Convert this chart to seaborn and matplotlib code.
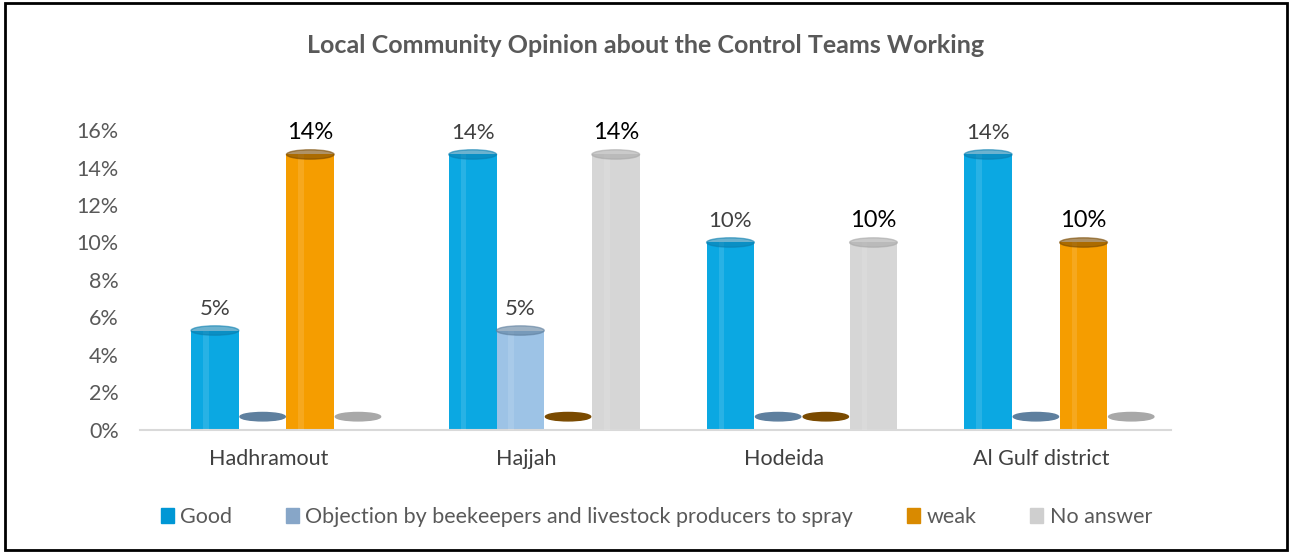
import matplotlib
matplotlib.use("Agg")
import matplotlib.pyplot as plt
import seaborn as sns
import pandas as pd
import numpy as np
from matplotlib.patches import Ellipse, Rectangle

# Data (bar heights in %, plus the printed labels)
regions = ["Hadhramout", "Hajjah", "Hodeida", "Al Gulf district"]
answers = ["Good", "Objection by beekeepers and livestock producers to spray", "weak", "No answer"]
good = [5.3, 14.7, 10.0, 14.7]
objection = [0, 5.3, 0, 0]
weak = [14.7, 0, 0, 10.0]
no_answer = [0, 14.7, 10.0, 0]
good_labels = ["5%", "14%", "10%", "14%"]
objection_labels = ["", "5%", "", ""]
weak_labels = ["14%", "", "", "10%"]
no_answer_labels = ["", "14%", "10%", ""]

bar_colors = ["#0BA8E2", "#9DC3E6", "#F59D00", "#D6D6D6"]
legend_colors = ["#0097D5", "#87A6C8", "#D98A00", "#CFCFCF"]
disc_colors = ["#0A7FB0", "#5E7F9E", "#7A4A00", "#A8A8A8"]
label_colors = ["#404040", "#404040", "#000000", "#000000"]
label_sizes = [16, 16, 17, 17]

rows = []
for ans, vals in zip(answers, [good, objection, weak, no_answer]):
    for reg, v in zip(regions, vals):
        rows.append({"region": reg, "answer": ans, "value": v})
df = pd.DataFrame(rows)
all_labels = [good_labels, objection_labels, weak_labels, no_answer_labels]

sns.set_style("white")
plt.rcParams["font.family"] = ["Lato", "DejaVu Sans"]

fig = plt.figure(figsize=(12.92, 5.56), dpi=100)
ax = fig.add_axes([0.108, 0.227, 0.798, 0.539])

sns.barplot(data=df, x="region", y="value", hue="answer", order=regions,
            hue_order=answers, palette=bar_colors, width=0.74, ax=ax,
            legend=False, saturation=1, errorbar=None)

shift = 0.07
for i, cont in enumerate(ax.containers):
    for j, patch in enumerate(cont.patches):
        patch.set_x(patch.get_x() + shift)
        patch.set_linewidth(0)
        cx = patch.get_x() + patch.get_width() / 2
        w = patch.get_width()
        h = patch.get_height()
        if h == 0:
            ax.add_patch(Ellipse((cx, 0.7), w * 0.95, 0.45, color=disc_colors[i], zorder=3))
        else:
            # light highlight stripe and top cap for a cylinder look
            ax.add_patch(Rectangle((patch.get_x() + w * 0.25, 0), w * 0.12, h,
                                   color="white", alpha=0.12, lw=0, zorder=3))
            ax.add_patch(Ellipse((cx, h), w, 0.5, color=disc_colors[i], alpha=0.6, zorder=3))
        lab = all_labels[i][j]
        if lab:
            ax.text(cx, h + 0.6, lab, ha="center", va="bottom",
                    fontsize=label_sizes[i], color=label_colors[i])

ax.set_ylim(0, 16)
ax.set_xlim(-0.5, 3.5)
ax.set_yticks(np.arange(0, 17, 2))
ax.set_yticklabels([f"{t}%" for t in range(0, 17, 2)])
ax.tick_params(axis="y", length=0, pad=15, labelsize=15.5, labelcolor="#595959")
ax.tick_params(axis="x", length=0, pad=14, labelsize=15.5, labelcolor="#404040")
ax.set_xticks(np.arange(-0.5, 4, 1), minor=True)
ax.tick_params(axis="x", which="minor", length=8, width=1.5, color="#D9D9D9")
ax.set_xlabel("")
ax.set_ylabel("")
for s in ["top", "right", "left"]:
    ax.spines[s].set_visible(False)
ax.spines["bottom"].set_color("#D9D9D9")
ax.spines["bottom"].set_linewidth(1.5)

fig.text(0.5, 0.919, "Local Community Opinion about the Control Teams Working",
         ha="center", va="center", fontsize=18, fontweight="bold", color="#595959")

handles = [Rectangle((0, 0), 1, 1, color=c) for c in legend_colors]
fig.legend(handles, answers, loc="center", bbox_to_anchor=(0.508, 0.07), ncol=4,
           frameon=False, fontsize=15.5, handlelength=0.6, handleheight=0.7,
           handletextpad=0.3, columnspacing=2.5, labelcolor="#595959")

fig.add_artist(Rectangle((0.004, 0.01), 0.992, 0.985, transform=fig.transFigure,
                         fill=False, edgecolor="black", linewidth=2))

fig.savefig("out.png", dpi=100)
